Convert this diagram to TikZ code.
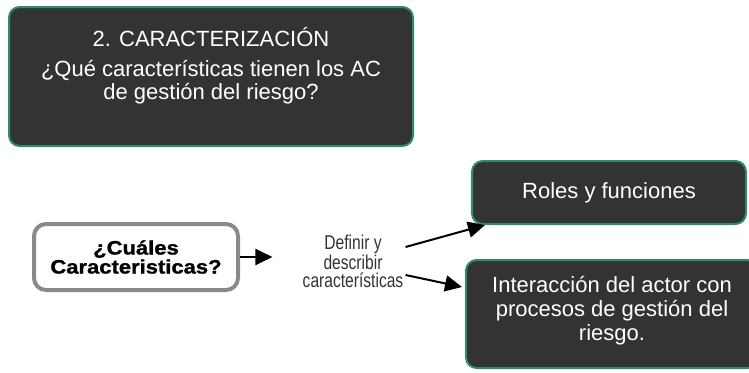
\documentclass[tikz,border=0pt]{standalone}
\usepackage{fontspec}
\setmainfont{Liberation Sans}
\newfontfamily\heavyfont[FakeStretch=1.13,FakeBold=1.2]{Liberation Sans}
\newfontfamily\narrowfont[FakeStretch=0.78]{Liberation Sans}
\usetikzlibrary{arrows.meta,calc}
\definecolor{boxfill}{HTML}{333333}
\definecolor{boxline}{RGB}{45,140,105}
\definecolor{greybox}{HTML}{8A8A8A}
\definecolor{plaintext}{HTML}{333333}
\begin{document}
\begin{tikzpicture}[x=0.75pt,y=-0.75pt]
\tikzstyle{dark box}=[rectangle,rounded corners=8pt,draw=boxline,line width=1.5pt,fill=boxfill,text=white,align=center,font=\fontsize{16.5}{18}\selectfont]
\tikzstyle{light box}=[rectangle,rounded corners=9pt,draw=greybox,line width=3pt,fill=white,align=center,font=\heavyfont\bfseries\fontsize{14.6}{14.25}\selectfont]
\tikzset{
	plain text/.style={align=center,inner sep=0,text=plaintext,font=\narrowfont\fontsize{15}{13.5}\selectfont},
	link/.style={-{Triangle[length=12.75pt,width=12pt]},line width=1.5pt}
}
\useasboundingbox (0,0) rectangle (749,372);
% boxes
\node[dark box,minimum width=303pt,minimum height=104.25pt,font=\fontsize{16.5}{17.25}\selectfont] (titulo) at (211,76.5)
	{2. CARACTERIZACIÓN\\[5.25pt]¿Qué características tienen los AC\\de gestión del riesgo?\rule[-19pt]{0pt}{0pt}};
\node[light box,minimum width=153pt,minimum height=49.5pt] (cuales) at (136,257) {¿Cuáles\\Caracteristicas?};
\node[plain text] (definir) at (353,261) {Definir y\\describir\\características};
\node[dark box,minimum width=205.5pt,minimum height=47.25pt] (roles) at (609,192.5) {Roles y funciones};
\node[dark box,minimum width=219pt,minimum height=81pt] (interaccion) at (612,314)
	{Interacción del actor con\\procesos de gestión del\\riesgo.\rule[-8pt]{0pt}{0pt}};
% arrows
\draw[link] (cuales.east) -- ($(cuales.east -| definir.west)+(-30,0)$);
\draw[link] ($(definir.east)+(2,-14)$) -- ($(roles.south west)+(14,0)$);
\draw[link] ($(definir.east)+(2,14)$) -- ($(interaccion.west)+(-3,-27)$);
\end{tikzpicture}
\end{document}
